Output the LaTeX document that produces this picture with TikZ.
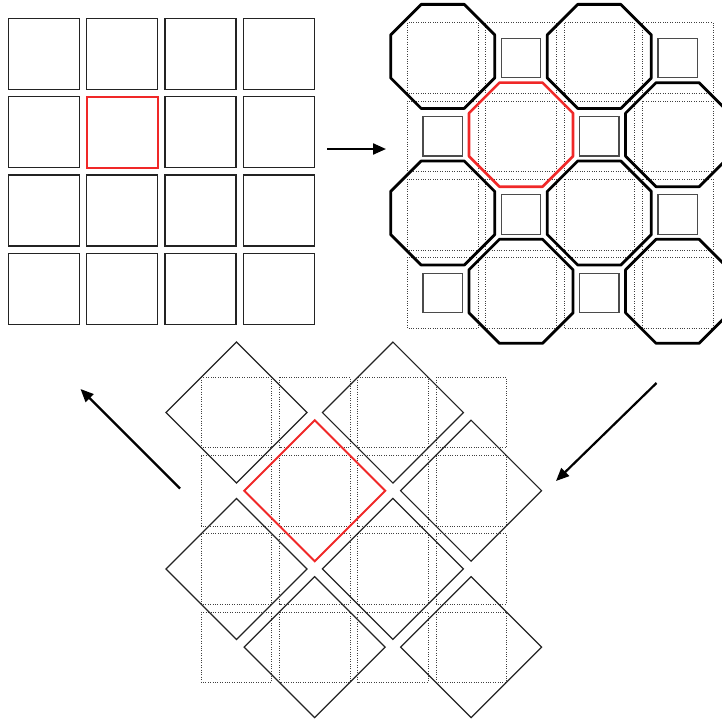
\documentclass[tikz,border=0pt]{standalone}
\usetikzlibrary{arrows.meta}
\definecolor{myred}{RGB}{240,40,40}
\definecolor{dgray}{RGB}{35,35,35}
\definecolor{mgray}{RGB}{75,75,75}
\begin{document}
\begin{tikzpicture}[x=1pt,y=-1pt,
  plainsq/.style={draw=dgray,line width=1.2pt},
  redsq/.style={draw=myred,line width=2pt},
  dotsq/.style={draw=black!75,line width=0.6pt,dash pattern=on 0.8pt off 1.6pt},
  octo/.style={draw=black,line width=2.8pt,line join=round},
  redocto/.style={draw=myred,line width=2.6pt,line join=round},
  smallsq/.style={draw=mgray,line width=1.2pt},
  diam/.style={draw=dgray,line width=1.2pt},
  reddiam/.style={draw=myred,line width=2pt},
  flow/.style={draw=black,line width=2.2pt,-{Triangle[length=13pt,width=11pt]}}]
\useasboundingbox (0,0) rectangle (722,721);

% ---------- top-left grid ----------
\foreach \r in {0,...,3}{
  \foreach \c in {0,...,3}{
    \draw[plainsq] ({8.3+78.3*\c},{18.3+78.3*\r}) rectangle ++(71,71);
  }
}
\draw[redsq] ({8.3+78.3},{18.3+78.3}) rectangle ++(71,71);

% ---------- top-right: dotted grid ----------
\foreach \r in {0,...,3}{
  \foreach \c in {0,...,3}{
    \draw[dotsq] ({407.3+78.3*\c},{22.5+78.3*\r}) rectangle ++(70.7,70.7);
  }
}
% small squares
\foreach \r/\c in {0/1,0/3,1/0,1/2,2/1,2/3,3/0,3/2}{
  \pgfmathsetmacro{\cx}{442.7+78.3*\c}
  \pgfmathsetmacro{\cy}{57.9+78.3*\r}
  \draw[smallsq] ({\cx-19.7},{\cy-19.7}) rectangle ++(39.4,39.4);
}
% octagons
\foreach \r/\c in {0/0,0/2,1/3,2/0,2/2,3/1,3/3}{
  \pgfmathsetmacro{\cx}{442.7+78.3*\c}
  \pgfmathsetmacro{\cy}{56.4+78.3*\r}
  \draw[octo,shift={(\cx,\cy)}] (22.5:56.3) -- (67.5:56.3) -- (112.5:56.3) -- (157.5:56.3) -- (202.5:56.3) -- (247.5:56.3) -- (292.5:56.3) -- (337.5:56.3) -- cycle;
}
\draw[redocto,shift={(521,134.7)}] (22.5:56.3) -- (67.5:56.3) -- (112.5:56.3) -- (157.5:56.3) -- (202.5:56.3) -- (247.5:56.3) -- (292.5:56.3) -- (337.5:56.3) -- cycle;

% ---------- bottom: dotted grid ----------
\foreach \r in {0,...,3}{
  \foreach \c in {0,...,3}{
    \draw[dotsq] ({201.3+78.2*\c},{377.3+78.2*\r}) rectangle ++(70.3,70.3);
  }
}
% diamonds
\foreach \r/\c in {0/0,0/2,1/3,2/0,2/2,3/1,3/3}{
  \pgfmathsetmacro{\cx}{236.5+78.2*\c}
  \pgfmathsetmacro{\cy}{412.5+78.2*\r}
  \draw[diam] ({\cx},{\cy-70.5}) -- ({\cx+70.5},{\cy}) -- ({\cx},{\cy+70.5}) -- ({\cx-70.5},{\cy}) -- cycle;
}
\draw[reddiam] (314.7,420.2) -- (385.2,490.7) -- (314.7,561.2) -- (244.2,490.7) -- cycle;

% ---------- arrows ----------
\coordinate (a1s) at (327,149);
\coordinate (a1e) at (386,149);
\coordinate (a2s) at (656.5,383);
\coordinate (a2e) at (556,481);
\coordinate (a3s) at (180,488.5);
\coordinate (a3e) at (80.5,389);
\draw[flow] (a1s) -- (a1e);
\draw[flow] (a2s) -- (a2e);
\draw[flow] (a3s) -- (a3e);
\end{tikzpicture}
\end{document}
